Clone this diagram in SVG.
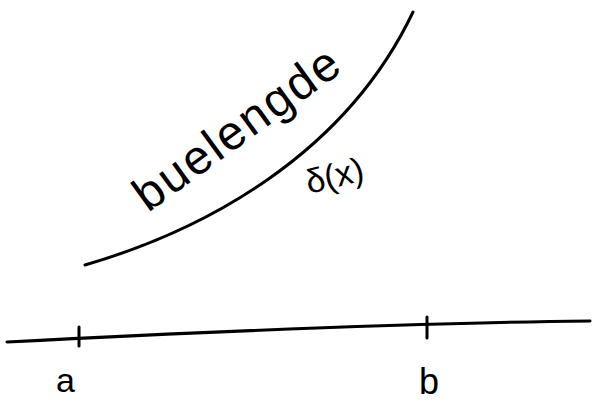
<svg xmlns="http://www.w3.org/2000/svg" width="592" height="405" viewBox="0 0 592 405">
<style>
.ln{fill:none;stroke:#000;stroke-width:3;stroke-linecap:round}
.tx{font-family:"Liberation Sans","DejaVu Sans",sans-serif;fill:#000}
</style>
<rect width="592" height="405" fill="#fff"/>
<g id="curve"><path class="ln" d="M85,265 C205,230 345,155 413,12"/></g>
<g id="axis">
<path class="ln" d="M7,342 C200,332 400,323 590,321"/>
<path class="ln" d="M79,327 L79,346"/>
<path class="ln" d="M427,317 L427,338"/>
</g>
<g id="label-buelengde"><text class="tx" x="0" y="0" font-size="48" textLength="242" transform="translate(148,213) rotate(-36)">buelengde</text></g>
<g id="label-delta"><text class="tx" x="0" y="0" font-size="34" transform="translate(309,194) rotate(-14)">δ(x)</text></g>
<g id="label-a"><text class="tx" x="56" y="392" font-size="34">a</text></g>
<g id="label-b"><text class="tx" x="419" y="394" font-size="36">b</text></g>
</svg>
